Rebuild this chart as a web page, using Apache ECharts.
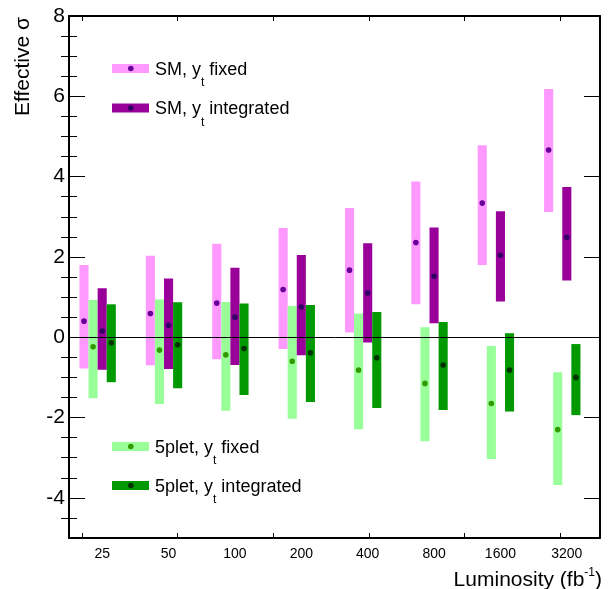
<!DOCTYPE html>
<html>
<head>
<meta charset="utf-8">
<script src="https://cdn.jsdelivr.net/npm/echarts@6/dist/echarts.min.js"></script>
<style>
html,body{margin:0;padding:0;background:#fff;}
#chart{width:610px;height:589px;}
</style>
</head>
<body>
<div id="chart"></div>
<script>
// ---- data ----
const luminosity = ['25', '50', '100', '200', '400', '800', '1600', '3200'];

const smFixedLow     = [-0.78, -0.70, -0.55, -0.29, 0.12, 0.82, 1.80, 3.12];
const smFixedHigh    = [1.80, 2.03, 2.33, 2.72, 3.22, 3.88, 4.78, 6.18];
const smFixedCentral = [0.40, 0.59, 0.85, 1.19, 1.67, 2.36, 3.34, 4.66];

const smIntLow     = [-0.81, -0.79, -0.69, -0.45, -0.13, 0.35, 0.89, 1.41];
const smIntHigh    = [1.22, 1.46, 1.73, 2.05, 2.34, 2.73, 3.14, 3.74];
const smIntCentral = [0.155, 0.30, 0.50, 0.75, 1.10, 1.52, 2.04, 2.49];

const p5FixedLow     = [-1.52, -1.66, -1.83, -2.03, -2.29, -2.59, -3.03, -3.68];
const p5FixedHigh    = [0.93, 0.94, 0.88, 0.78, 0.59, 0.25, -0.22, -0.87];
const p5FixedCentral = [-0.24, -0.32, -0.44, -0.60, -0.82, -1.15, -1.65, -2.30];

const p5IntLow     = [-1.12, -1.27, -1.44, -1.61, -1.76, -1.81, -1.85, -1.94];
const p5IntHigh    = [0.82, 0.87, 0.84, 0.80, 0.63, 0.38, 0.10, -0.17];
const p5IntCentral = [-0.14, -0.19, -0.28, -0.39, -0.51, -0.69, -0.82, -1.00];

const yMajorTicks = [-4, -2, 0, 2, 4, 6, 8];
const yMinorTicks = [-4.5, -3.5, -3, -2.5, -1.5, -1, -0.5, 0.5, 1, 1.5, 2.5, 3, 3.5, 4.5, 5, 5.5, 6.5, 7, 7.5];
const xFrameTicks = [0.196, 1.637, 3.077, 4.518, 5.958, 7.399];

// ---- build ----
const FONT = '"Liberation Sans", Arial, Helvetica, sans-serif';
const BAR_W = 0.137;

function rows(low, high, central) {
  return luminosity.map((_, i) => [i, low[i], high[i], central[i]]);
}

function makeSeries(name, low, high, central, slot, barColor, dotColor) {
  return {
    name: name,
    type: 'custom',
    xAxisIndex: 0,
    yAxisIndex: 0,
    z: 2,
    data: rows(low, high, central),
    renderItem: function (params, api) {
      const i = api.value(0);
      const xv = i + 0.5 + slot * BAR_W;
      const pTop = api.coord([xv, api.value(2)]);
      const pBot = api.coord([xv, api.value(1)]);
      const pMid = api.coord([xv, api.value(3)]);
      const w = api.size([BAR_W, 0])[0];
      return {
        type: 'group',
        children: [
          { type: 'rect', shape: { x: pTop[0] - w / 2, y: pTop[1], width: w, height: pBot[1] - pTop[1] },
            style: { fill: barColor } },
          { type: 'circle', shape: { cx: pMid[0], cy: pMid[1], r: 2.8 }, style: { fill: dotColor } }
        ]
      };
    }
  };
}

function legendItem(y, barColor, dotColor, label) {
  return [
    { type: 'rect', left: 112, top: y - 4.5, shape: { width: 37, height: 9 }, style: { fill: barColor } },
    { type: 'circle', left: 128, top: y - 2.8, shape: { r: 2.8 }, style: { fill: dotColor } },
    { type: 'text', x: 155, y: y + 1.5,
      style: {
        text: '{m|' + label[0] + '}{s|t}{m|' + label[1] + '}',
        verticalAlign: 'middle', align: 'left',
        rich: {
          m: { fontSize: 18, fontFamily: FONT, fill: '#000', lineHeight: 38, verticalAlign: 'middle' },
          s: { fontSize: 12, fontFamily: FONT, fill: '#000', lineHeight: 12, verticalAlign: 'bottom' }
        }
      } }
  ];
}

const chart = echarts.init(document.getElementById('chart'), null, { renderer: 'canvas' });

const axisBase = {
  type: 'value', min: -5, max: 8,
  splitLine: { show: false }
};

const option = {
  backgroundColor: '#fff',
  animation: false,
  grid: { left: 69, right: 10, top: 16, bottom: 51, containLabel: false },
  xAxis: [
    {
      type: 'value', min: 0, max: 8, position: 'bottom',
      splitLine: { show: false },
      axisLine: { show: true, onZero: false, lineStyle: { color: '#000', width: 2 } },
      axisTick: { show: true, inside: true, length: 5, customValues: xFrameTicks, lineStyle: { color: '#000', width: 1 } },
      axisLabel: {
        show: true, customValues: luminosity.map((_, i) => i + 0.5),
        formatter: v => luminosity[Math.round(v - 0.5)],
        fontSize: 14, fontFamily: FONT, color: '#000', margin: 9
      }
    },
    {
      type: 'value', min: 0, max: 8, position: 'top',
      splitLine: { show: false },
      axisLine: { show: true, onZero: false, lineStyle: { color: '#000', width: 2 } },
      axisTick: { show: true, inside: true, length: 5, customValues: xFrameTicks, lineStyle: { color: '#000', width: 1 } },
      axisLabel: { show: false }
    }
  ],
  yAxis: [
    Object.assign({}, axisBase, {
      position: 'left',
      axisLine: { show: true, onZero: false, lineStyle: { color: '#000', width: 2 } },
      axisTick: { show: true, inside: true, length: 16, customValues: yMajorTicks, lineStyle: { color: '#000', width: 1 } },
      axisLabel: { show: true, customValues: yMajorTicks, fontSize: 21, fontFamily: FONT, color: '#000', margin: 4 }
    }),
    Object.assign({}, axisBase, {
      position: 'left',
      axisLine: { show: false },
      axisTick: { show: true, inside: true, length: 8, customValues: yMinorTicks, lineStyle: { color: '#000', width: 1 } },
      axisLabel: { show: false }
    }),
    Object.assign({}, axisBase, {
      position: 'right',
      axisLine: { show: true, onZero: false, lineStyle: { color: '#000', width: 2 } },
      axisTick: { show: true, inside: true, length: 16, customValues: yMajorTicks, lineStyle: { color: '#000', width: 1 } },
      axisLabel: { show: false }
    }),
    Object.assign({}, axisBase, {
      position: 'right',
      axisLine: { show: false },
      axisTick: { show: true, inside: true, length: 8, customValues: yMinorTicks, lineStyle: { color: '#000', width: 1 } },
      axisLabel: { show: false }
    })
  ],
  series: [
    makeSeries('SM, yt fixed', smFixedLow, smFixedHigh, smFixedCentral, -2, '#ff99ff', '#660099'),
    makeSeries('5plet, yt fixed', p5FixedLow, p5FixedHigh, p5FixedCentral, -1, '#99ff99', '#339900'),
    makeSeries('SM, yt integrated', smIntLow, smIntHigh, smIntCentral, 0, '#990099', '#330066'),
    makeSeries('5plet, yt integrated', p5IntLow, p5IntHigh, p5IntCentral, 1, '#009900', '#003300'),
    {
      type: 'line', xAxisIndex: 0, yAxisIndex: 0, data: [], z: 5,
      markLine: {
        silent: true, symbol: 'none', label: { show: false },
        lineStyle: { color: '#000', width: 1, type: 'solid' },
        data: [{ yAxis: 0 }]
      }
    }
  ],
  graphic: [].concat(
    legendItem(68.5, '#ff99ff', '#660099', ['SM, y', ' fixed']),
    legendItem(108, '#990099', '#330066', ['SM, y', ' integrated']),
    legendItem(446.5, '#99ff99', '#339900', ['5plet, y', ' fixed']),
    legendItem(485.5, '#009900', '#003300', ['5plet, y', ' integrated']),
    [
      { type: 'text', x: 23, y: 17, rotation: Math.PI / 2,
        style: { text: 'Effective σ', fontSize: 21, fontFamily: FONT, fill: '#000', align: 'right', verticalAlign: 'middle' } },
      { type: 'text', x: 602, y: 580,
        style: {
          text: '{m|Luminosity (fb}{s|-1}{m|)}',
          align: 'right', verticalAlign: 'middle',
          rich: {
            m: { fontSize: 21, fontFamily: FONT, fill: '#000', lineHeight: 26, verticalAlign: 'middle' },
            s: { fontSize: 12, fontFamily: FONT, fill: '#000', lineHeight: 12, verticalAlign: 'top' }
          }
        } }
    ]
  )
};

chart.setOption(option);
</script>
</body>
</html>
